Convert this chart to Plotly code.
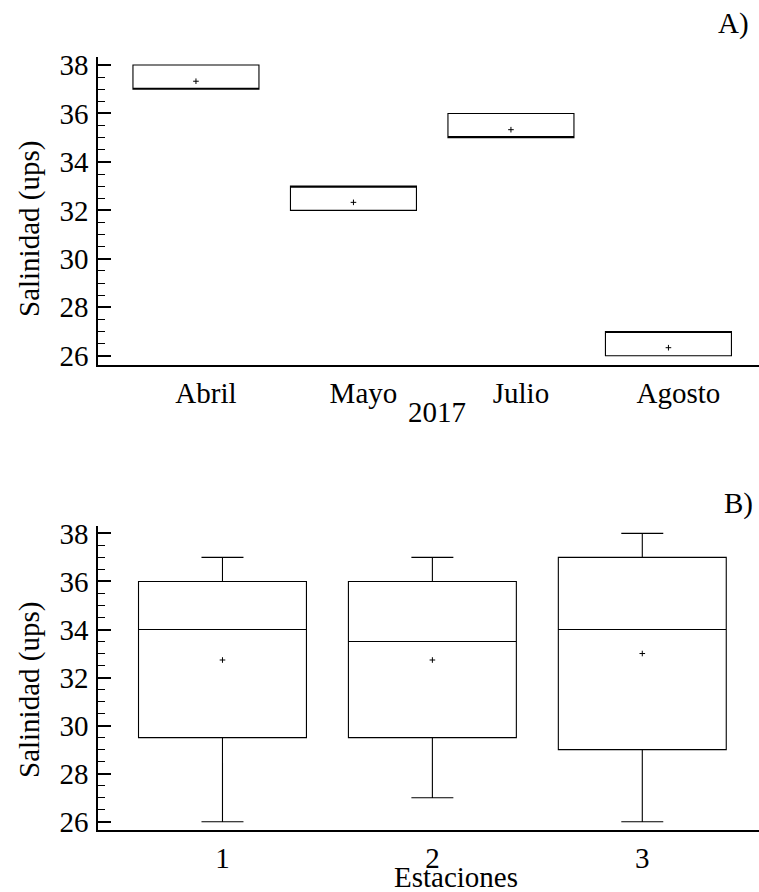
import plotly.graph_objects as go

# ---- Data ----
months = ["Abril", "Mayo", "Julio", "Agosto"]
m_q1 = [37, 32, 35, 26]
m_median = [37, 33, 35, 27]
m_q3 = [38, 33, 36, 27]
m_low = [37, 32, 35, 26]
m_high = [38, 33, 36, 27]
m_mean = [37.33, 32.33, 35.33, 26.33]

stations = ["1", "2", "3"]
s_q1 = [29.5, 29.5, 29]
s_median = [34, 33.5, 34]
s_q3 = [36, 36, 37]
s_low = [26, 27, 26]
s_high = [37, 37, 38]
s_mean = [32.73, 32.73, 33.0]

FONT = "Liberation Serif"
W, H = 759, 892

fig = go.Figure()

box_style = dict(fillcolor="white", line=dict(color="black", width=1.1),
                 whiskerwidth=0.25, boxpoints=False, showlegend=False)

fig.add_trace(go.Box(x=months, q1=m_q1, median=m_median, q3=m_q3,
                     lowerfence=m_low, upperfence=m_high,
                     xaxis="x", yaxis="y", **box_style))
fig.add_trace(go.Scatter(x=months, y=m_mean, mode="markers",
                         marker=dict(symbol="cross-thin", size=4,
                                     line=dict(color="black", width=1)),
                         xaxis="x", yaxis="y", showlegend=False))

fig.add_trace(go.Box(x=stations, q1=s_q1, median=s_median, q3=s_q3,
                     lowerfence=s_low, upperfence=s_high,
                     xaxis="x2", yaxis="y2", **box_style))
fig.add_trace(go.Scatter(x=stations, y=s_mean, mode="markers",
                         marker=dict(symbol="cross-thin", size=4,
                                     line=dict(color="black", width=1)),
                         xaxis="x2", yaxis="y2", showlegend=False))

tickfont = dict(family=FONT, size=29, color="black")

yax = dict(showline=True, linecolor="black", linewidth=1.5, ticks="inside",
           ticklen=13, tickwidth=1.5, tickcolor="black", dtick=2, tick0=26,
           showgrid=False, zeroline=False, tickfont=tickfont,
           minor=dict(ticks="inside", ticklen=7, tickwidth=1.2,
                      tickcolor="black", dtick=0.5, showgrid=False),
           automargin=False, ticklabelstandoff=2)
xax = dict(showline=True, linecolor="black", linewidth=1.5, ticks="",
           showgrid=False, zeroline=False, tickfont=tickfont,
           automargin=False, type="category")

x0 = 98 / W
fig.update_layout(
    width=W, height=H,
    margin=dict(l=0, r=0, t=0, b=0),
    plot_bgcolor="white", paper_bgcolor="white",
    boxgap=0.2, boxgroupgap=0,
    showlegend=False,
    xaxis=dict(domain=[x0, 1], anchor="y", range=[-0.622, 3.575],
               ticklabelshift=10, ticklabelstandoff=1, **xax),
    yaxis=dict(domain=[1 - 365 / H, 1 - 57 / H], anchor="x",
               range=[25.616, 38.33], **yax),
    xaxis2=dict(domain=[x0, 1], anchor="y2", range=[-0.593, 2.556],
                ticklabelstandoff=1, **xax),
    yaxis2=dict(domain=[1 - 830 / H, 1 - 525.7 / H], anchor="x2",
                range=[25.655, 38.32], **yax),
)

ann_font = dict(family=FONT, size=29, color="black")
def add_text(text, px, py, angle=0):
    fig.add_annotation(text=text, x=px / W, y=1 - py / H, xref="paper",
                       yref="paper", showarrow=False, font=ann_font,
                       textangle=angle, xanchor="center", yanchor="middle")

add_text("2017", 437, 412)
add_text("Estaciones", 456, 877)
add_text("Salinidad (ups)", 29, 229, -90)
add_text("Salinidad (ups)", 29, 690, -90)
add_text("A)", 733, 24)
add_text("B)", 738, 504)

fig.write_html(
    "out.html",
    config={"displayModeBar": False},
    post_script="document.body.style.margin='0';"
                "document.body.style.overflow='hidden';",
)
